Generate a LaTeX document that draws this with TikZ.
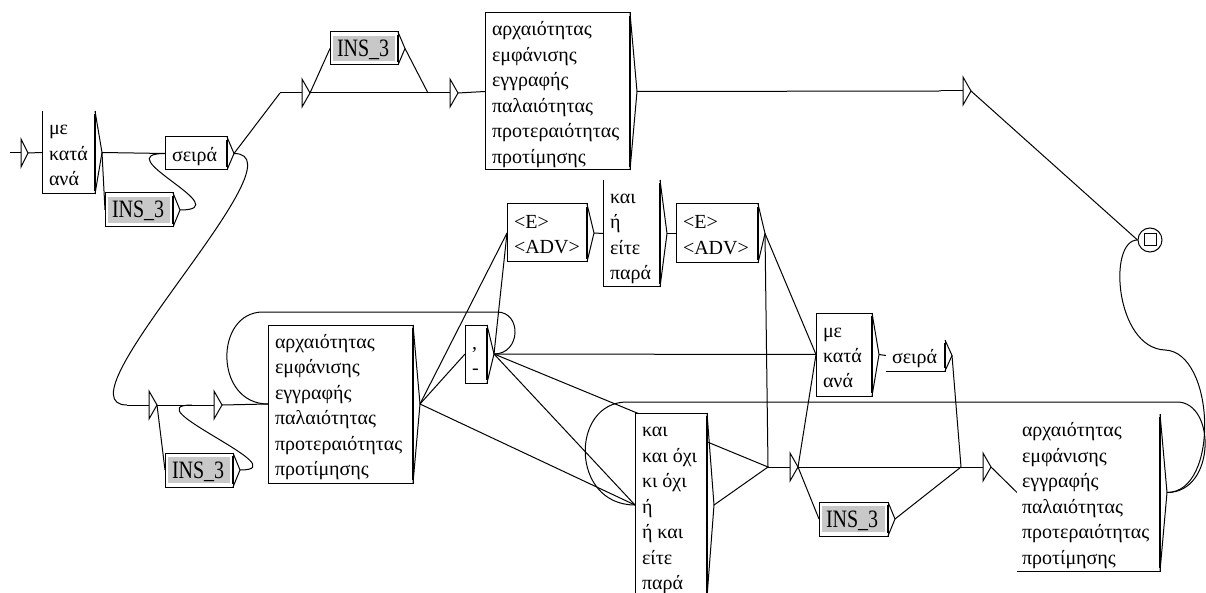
\documentclass[tikz,border=0pt]{standalone}
\usepackage{fontspec}
\setmainfont{Liberation Serif}
\usepackage{graphicx}
\usetikzlibrary{backgrounds}
\definecolor{insgrey}{RGB}{200,200,200}
\newcommand\gk{\fontsize{20pt}{25.5pt}\selectfont}
\newcommand\tx[2]{\makebox[#1pt][l]{\begin{tabular}[t]{@{}l@{}}#2\end{tabular}}}
\newcommand\ins{\scalebox{1}[1.25]{INS\_3}}
\newcommand\outp[1]{%
  \coordinate (#1-o) at ([xshift=7pt]#1.east);
  \draw (#1.north east) -- (#1-o) -- (#1.south east);
  \draw[bar] ([yshift=-3pt]#1.north east) -- ([yshift=3pt]#1.south east);
}
\newcommand\ebox[3]{%
  \coordinate (#1) at (#2,#3);
  \coordinate (#1-o) at (#2+30,#3);
  \draw (#1) -- ([shift={(22,0)}]#1);
  \draw ([shift={(22,-14)}]#1) -- (#1-o) -- ([shift={(22,14)}]#1) -- cycle;
}
\begin{document}
\begin{tikzpicture}[x=1pt,y=-1pt,line width=1pt,
  ubox/.style={rectangle, inner xsep=7pt, inner ysep=0pt, outer sep=0pt, anchor=north west, font=\gk, fill=white},
  wbox/.style={ubox, draw},
  gbox/.style={ubox, draw, path picture={\fill[insgrey] ([shift={(3pt,-4pt)}]path picture bounding box.north west) rectangle ([shift={(-3pt,4pt)}]path picture bounding box.south east);}},
  bar/.style={line width=2.2pt},
  tr/.style={draw, line width=1pt},
]
\useasboundingbox (0,0) rectangle (1206,593);

% ---- boxes ----
\node[ubox, text height=24pt, text depth=59pt] (B1) at (42,111) {\tx{39}{με\\κατά\\ανά}};
\draw (B1.north west) -- (B1.south west) -- (B1.south east) -- (B1.north east);
\node[wbox, text height=24.5pt, text depth=8.5pt] (S1) at (165,137) {\tx{48}{σειρά}};
\node[gbox, text height=25pt, text depth=9pt] (I1) at (105,193) {\tx{54}{\ins}};
\node[gbox, text height=24.5pt, text depth=8.5pt] (I2) at (330,32) {\tx{54}{\ins}};
\node[wbox, text height=22.75pt, text depth=134.25pt] (A1) at (485,13) {\tx{131}{αρχαιότητας\\εμφάνισης\\εγγραφής\\παλαιότητας\\προτεραιότητας\\προτίμησης}};
\node[wbox, text height=24.25pt, text depth=33.75pt] (P) at (465,325) {\tx{8}{,\\-}};
\node[wbox, text height=23.25pt, text depth=134.75pt] (A2) at (268,325) {\tx{131}{αρχαιότητας\\εμφάνισης\\εγγραφής\\παλαιότητας\\προτεραιότητας\\προτίμησης}};
\node[gbox, text height=25pt, text depth=9pt] (I3) at (165,453) {\tx{54}{\ins}};
\node[wbox, text height=24.25pt, text depth=33.75pt] (EB1) at (507,204) {\tx{66}{<E>\\<ADV>}};
\node[ubox, text height=23.25pt, text depth=83.75pt] (KA) at (603,180) {\tx{43}{και\\ή\\είτε\\παρά}};
\draw (KA.north west) -- (KA.south west) -- (KA.south east) -- (KA.north east);
\node[wbox, text height=24.75pt, text depth=34.25pt] (EB2) at (676,204) {\tx{68}{<E>\\<ADV>}};
\node[wbox, text height=23.5pt, text depth=160.5pt] (K) at (635,413) {\tx{58}{και\\και όχι\\κι όχι\\ή\\ή και\\είτε\\παρά}};
\node[wbox, text height=24pt, text depth=59pt] (M2) at (816,313) {\tx{42}{με\\κατά\\ανά}};
\node[ubox, inner xsep=6pt, text height=23.5pt, text depth=7.5pt] (S2) at (886,340) {\tx{47}{σειρά}};
\draw (S2.south west) -- (S2.south east) -- (S2.north east);
\node[gbox, text height=25pt, text depth=9pt] (I4) at (819,502) {\tx{55}{\ins}};
\node[ubox, inner xsep=5pt, text height=22.75pt, text depth=134.25pt] (A3) at (1017,414) {\tx{133}{αρχαιότητας\\εμφάνισης\\εγγραφής\\παλαιότητας\\προτεραιότητας\\προτίμησης}};
\draw (A3.south west) -- (A3.south east) -- (A3.north east);

\foreach \n in {B1,S1,I1,I2,A1,P,A2,I3,EB1,KA,EB2,K,M2,S2,I4,A3}{\outp{\n}}

% ---- empty boxes, initial and final states ----
\coordinate (init) at (10,153);
\coordinate (init-o) at (28,153);
\draw (init) -- (21,153);
\draw (21,139) -- (init-o) -- (21,167) -- cycle;
\ebox{EA}{280}{93}
\ebox{EB}{428}{93}
\ebox{EC}{941}{91}
\ebox{EE}{127}{405}
\ebox{EF}{192}{405}
\ebox{ED}{768}{467}
\ebox{EH}{961}{467}
\node[circle, draw, minimum size=24pt, inner sep=0pt] (F) at (1150,240) {};
\draw ([shift={(-6,-6)}]F.center) rectangle ([shift={(6,6)}]F.center);

\coordinate (pl1) at (497,312);
\coordinate (pl2) at (263,312);
\coordinate (kl1) at (1177,402);
\coordinate (kl2) at (627,402);
\coordinate (fl1) at (1165,350);

% ---- transitions ----
\begin{scope}[on background layer]
\fill[white] (0,0) rectangle (1206,593);
\draw[tr] (init-o) -- (B1.west);
\draw[tr] (B1-o) -- (S1.west);
\draw[tr] (B1-o) -- (I1.west);
\draw[tr] (I1-o) .. controls +(60,0) and +(-60,0) .. (S1.west);
\draw[tr] (S1-o) -- (EA);
\draw[tr] (S1-o) .. controls +(74,0) and +(-74,0) .. (EE);
\draw[tr] (EA-o) -- (I2.west);
\draw[tr] (EA-o) -- (EB);
\draw[tr] (I2-o) -- (EB);
\draw[tr] (EB-o) -- (A1.west);
\draw[tr] (A1-o) -- (EC);
\draw[tr] (EC-o) -- (F.west);
\draw[tr] (EE-o) -- (EF);
\draw[tr] (EE-o) -- (I3.west);
\draw[tr] (I3-o) .. controls +(60,0) and +(-60,0) .. (EF);
\draw[tr] (EF-o) -- (A2.west);
\draw[tr] (A2-o) -- (P.west);
\draw[tr] (A2-o) -- (EB1.west);
\draw[tr] (A2-o) -- (K.west);
\draw[tr] (P-o) .. controls +(27,0) and +(25,0) .. (pl1) -- (pl2) .. controls +(-49,0) and +(-54,0) .. (A2.west);
\draw[tr] (P-o) -- (EB1.west);
\draw[tr] (P-o) -- (M2.west);
\draw[tr] (P-o) -- (K.west);
\draw[tr] (P-o) -- (ED);
\draw[tr] (EB1-o) -- (KA.west);
\draw[tr] (KA-o) -- (EB2.west);
\draw[tr] (EB2-o) -- (ED);
\draw[tr] (EB2-o) -- (M2.west);
\draw[tr] (K-o) -- (ED);
\draw[tr] (ED-o) -- (M2.west);
\draw[tr] (ED-o) -- (I4.west);
\draw[tr] (ED-o) -- (EH);
\draw[tr] (M2-o) -- (S2.west);
\draw[tr] (S2-o) -- (EH);
\draw[tr] (I4-o) -- (EH);
\draw[tr] (EH-o) -- (A3.west);
\draw[tr] (A3-o) .. controls +(49,0) and +(39,0) .. (kl1) -- (kl2) .. controls +(-57,0) and +(-65,0) .. (K.west);
\draw[tr] (A3-o) .. controls +(53,0) and +(50,2) .. (fl1) .. controls +(-50,-2) and +(-30,0) .. (F.west);
\end{scope}
\end{tikzpicture}
\end{document}
